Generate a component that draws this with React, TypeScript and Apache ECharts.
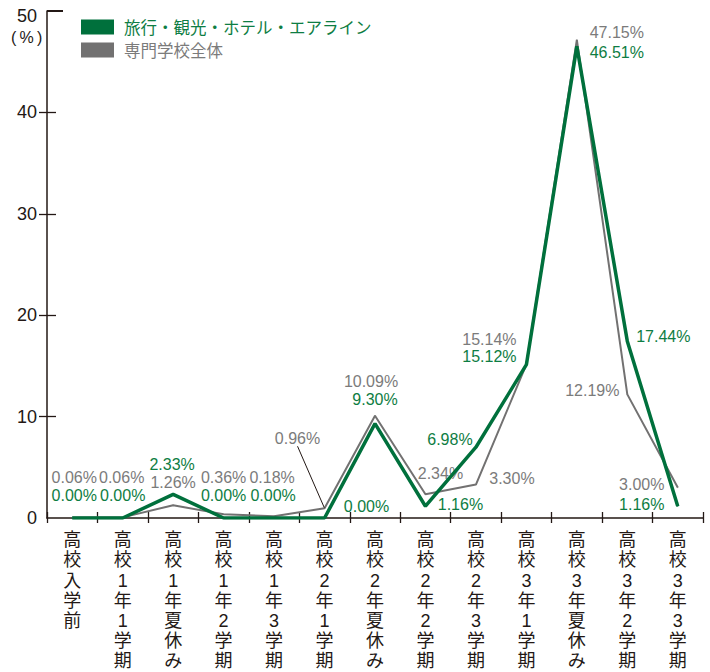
import React, { useEffect, useRef } from "react";
import * as echarts from "echarts";

const categories = [
  "高校入学前",
  "高校1年1学期",
  "高校1年夏休み",
  "高校1年2学期",
  "高校1年3学期",
  "高校2年1学期",
  "高校2年夏休み",
  "高校2年2学期",
  "高校2年3学期",
  "高校3年1学期",
  "高校3年夏休み",
  "高校3年2学期",
  "高校3年3学期",
];
const travelValues = [0.0, 0.0, 2.33, 0.0, 0.0, 0.0, 9.3, 1.16, 6.98, 15.12, 46.51, 17.44, 1.16];
const allSchoolValues = [0.06, 0.06, 1.26, 0.36, 0.18, 0.96, 10.09, 2.34, 3.3, 15.14, 47.15, 12.19, 3.0];
const seriesNames = ["旅行・観光・ホテル・エアライン", "専門学校全体"];
const yMin = 0;
const yMax = 50;
const yInterval = 10;

// label placement (style only)
const grayOffsets = [
  [2, -40], [-1, -40], [0, -23], [0, -37], [-2, -39], [-27, -70], [-4, -34],
  [15, -21], [36, -6], [-37, -25], [40, -7], [-35, -4], [-36, -3],
];
const greenOffsets = [
  [2, -23], [0, -23], [-1, -30], [0, -23], [-1, -23], [42, -12], [0, -24],
  [35, -2], [-26, -8], [-37, -8], [40, 6], [36, -5], [-36, -2],
];

const GREEN = "#00703C";
const GREEN_TEXT = "#0E7D43";
const GRAY = "#727171";
const GRAY_TEXT = "#7B7B7B";
const INK = "#231815";
const LATIN = "'Liberation Sans', 'Noto Sans CJK JP', sans-serif";
const CJK = "'Noto Sans CJK JP', 'Liberation Sans', sans-serif";

export default function App() {
  const ref = useRef<HTMLDivElement>(null);
  useEffect(() => {
    document.body.style.margin = "0";
    if (!ref.current) return;
    const chart = echarts.init(ref.current, undefined, { renderer: "svg" });

    const mkData = (vals: number[], offs: number[][], color: string, leaderIdx: number) =>
      vals.map((v, i) => ({
        value: v,
        label: {
          show: true,
          position: "inside",
          offset: offs[i],
          align: "center",
          verticalAlign: "middle",
          color,
          fontSize: 16,
          fontFamily: LATIN,
          formatter: (p: any) => p.value.toFixed(2) + "%",
        },
        labelLine:
          i === leaderIdx
            ? { show: true, length2: 0, lineStyle: { color: INK, width: 1 } }
            : { show: false },
      }));

    const yTickVals = [10, 20, 30, 40];

    chart.setOption({
      animation: false,
      grid: { left: 47, right: 7, top: 11, bottom: 154, containLabel: false, outerBoundsMode: "none" },
      legend: {
        orient: "vertical",
        left: 81,
        top: 18,
        padding: 0,
        itemWidth: 33,
        itemHeight: 15,
        itemGap: 5,
        icon: "rect",
        selectedMode: false,
        data: [
          { name: seriesNames[0], textStyle: { color: GREEN_TEXT } },
          { name: seriesNames[1], textStyle: { color: GRAY_TEXT } },
        ],
        textStyle: { fontSize: 16.5, lineHeight: 18, fontFamily: CJK, padding: [0, 0, 0, 5] },
      },
      xAxis: [
        {
          type: "category",
          data: categories,
          position: "bottom",
          axisLine: { show: true, lineStyle: { color: INK, width: 1.5 } },
          axisTick: { show: true, inside: false, length: 5, interval: 0, lineStyle: { color: INK, width: 1.3 } },
          axisLabel: {
            interval: 0,
            margin: 12,
            color: INK,
            fontSize: 18,
            lineHeight: 20.2,
            fontFamily: LATIN,
            verticalAlign: "top",
            formatter: (v: string) => v.split("").join("\n"),
          },
          splitLine: { show: false },
        },
        {
          type: "category",
          data: categories,
          position: "bottom",
          axisLine: { show: false },
          axisTick: { show: true, inside: true, length: 6, interval: 0, lineStyle: { color: INK, width: 1.3 } },
          axisLabel: { show: false },
          splitLine: { show: false },
        },
      ],
      yAxis: [
        {
          type: "value",
          min: yMin,
          max: yMax,
          interval: yInterval,
          axisLine: { show: true, lineStyle: { color: INK, width: 1.5 } },
          axisTick: { show: true, inside: false, length: 8, customValues: yTickVals, lineStyle: { color: INK, width: 1.3 } },
          axisLabel: {
            margin: 10,
            color: INK,
            fontSize: 18,
            fontFamily: LATIN,
            formatter: (v: number) => (v === 50 ? "{top|50}" : String(v)),
            rich: { top: { padding: [10, 0, 0, 0], fontSize: 18, color: INK, fontFamily: LATIN } },
          },
          splitLine: { show: false },
        },
        {
          type: "value",
          min: yMin,
          max: yMax,
          interval: yInterval,
          position: "left",
          axisLine: { show: false },
          axisTick: { show: true, inside: true, length: 9, customValues: yTickVals, lineStyle: { color: INK, width: 1.3 } },
          axisLabel: { show: false },
          splitLine: { show: false },
        },
        {
          type: "value",
          min: yMin,
          max: yMax,
          interval: yInterval,
          position: "left",
          axisLine: { show: false },
          axisTick: { show: true, inside: true, length: 16, customValues: [50], lineStyle: { color: INK, width: 2 } },
          axisLabel: { show: false },
          splitLine: { show: false },
        },
      ],
      graphic: [
        {
          type: "text",
          left: 11,
          top: 29,
          style: {
            text: "(\u2009%\u2009)",
            font: "16px 'Liberation Sans', sans-serif",
            fontSize: 16,
            fontFamily: "Liberation Sans",
            fill: INK,
          },
        },
      ],
      series: [
        {
          name: seriesNames[1],
          type: "line",
          xAxisIndex: 0,
          yAxisIndex: 0,
          data: mkData(allSchoolValues, grayOffsets, GRAY_TEXT, 5),
          symbol: "circle",
          symbolSize: 1,
          showSymbol: true,
          itemStyle: { color: GRAY },
          lineStyle: { color: GRAY, width: 2 },
          z: 2,
        },
        {
          name: seriesNames[0],
          type: "line",
          xAxisIndex: 0,
          yAxisIndex: 0,
          data: mkData(travelValues, greenOffsets, GREEN_TEXT, -1),
          symbol: "circle",
          symbolSize: 1,
          showSymbol: true,
          itemStyle: { color: GREEN },
          lineStyle: { color: GREEN, width: 3.5 },
          z: 3,
        },
      ],
    });
    return () => chart.dispose();
  }, []);
  return <div ref={ref} style={{ width: 710, height: 672 }} />;
}
